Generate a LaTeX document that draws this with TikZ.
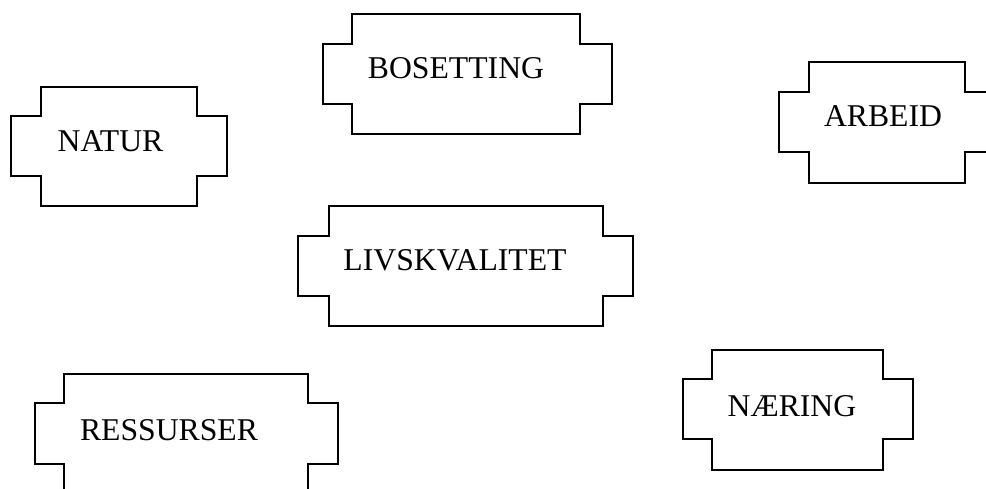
\documentclass[tikz,border=0pt]{standalone}
\usepackage{fontspec}
\setmainfont{Liberation Serif}
\tikzset{
  plaque/.style={draw=black, line width=1.3pt, line join=miter},
  lbl/.style={anchor=base, inner sep=0pt, font=\fontsize{31.7}{36}\selectfont}
}
% #1 outer left, #2 inner left, #3 inner right, #4 outer right,
% #5 top, #6 upper step, #7 lower step, #8 bottom
\newcommand{\plaquepath}[8]{%
  \draw[plaque] (#2,#5) -- (#3,#5) -- (#3,#6) -- (#4,#6) -- (#4,#7) -- (#3,#7)
    -- (#3,#8) -- (#2,#8) -- (#2,#7) -- (#1,#7) -- (#1,#6) -- (#2,#6) -- cycle;}
\begin{document}
\begin{tikzpicture}[x=1pt, y=-1pt]
\useasboundingbox (0,0) rectangle (986,489);
\clip (0,0) rectangle (986,489);
\plaquepath{11}{41}{197}{227}{87}{116}{176}{206}
\node[lbl] (natur) at (110.5,151.7) {NATUR};
\plaquepath{323}{352}{580}{612}{14}{44}{104}{134}
\node[lbl] (bosetting) at (456,79) {BOSETTING};
\plaquepath{779}{809}{965}{995}{62}{92}{152}{183}
\node[lbl] (arbeid) at (883,127) {ARBEID};
\plaquepath{298}{329}{603}{633}{206}{236}{296}{326}
\node[lbl] (livskvalitet) at (455,271) {LIVSKVALITET};
\plaquepath{35}{64}{308}{338}{374}{403}{464}{510}
\node[lbl] (ressurser) at (169,440) {RESSURSER};
\plaquepath{683}{712}{883}{913}{350}{379}{439}{470}
\node[lbl] (naering) at (792,416) {NÆRING};
\end{tikzpicture}
\end{document}
